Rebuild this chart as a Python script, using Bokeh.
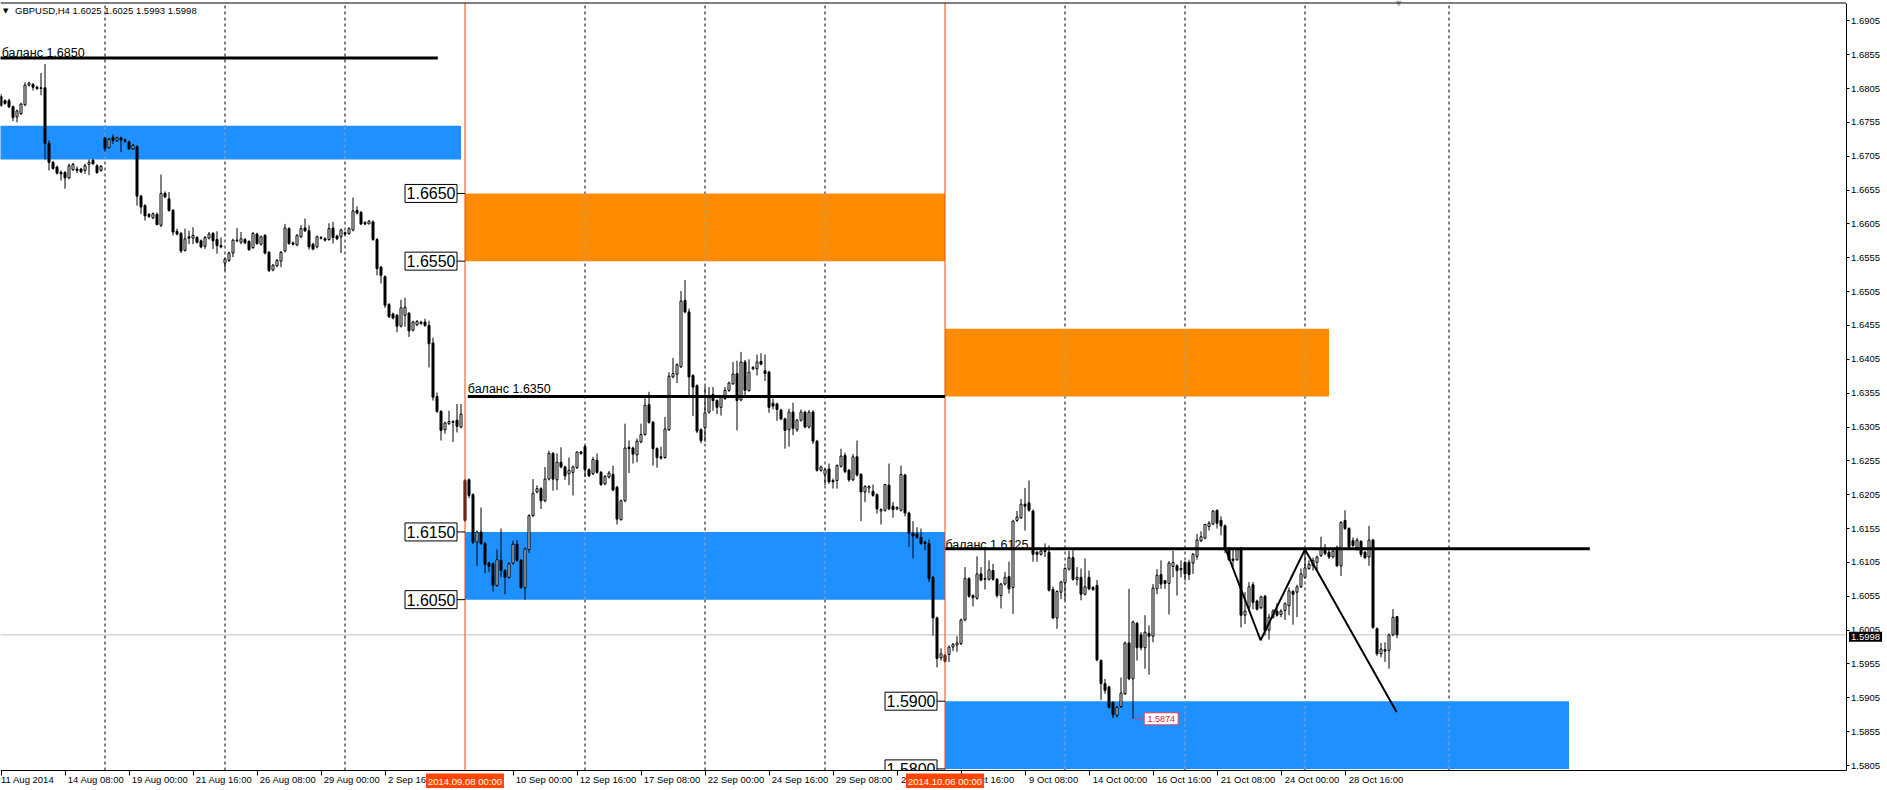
import numpy as np
from bokeh.plotting import figure
from bokeh.models import (Range1d, LinearAxis, FixedTicker, PrintfTickFormatter, Label)
from bokeh.embed import file_html
from bokeh.resources import INLINE
from bokeh.core.properties import value

# ---------------------------------------------------------------- data
symbol_header = "GBPUSD,H4  1.6025 1.6025 1.5993 1.5998"
first_bar = 4  # bar 0 = Mon 11 Aug 2014 00:00, H4 bars (6 per day, 5 days per week)

opens = [
    1.6793, 1.6787, 1.6787, 1.6778, 1.6763, 1.6768, 1.6781, 1.6810, 1.6811, 1.6807,
    1.6806, 1.6806, 1.6724, 1.6696, 1.6689, 1.6681, 1.6681, 1.6673, 1.6685, 1.6686,
    1.6686, 1.6684, 1.6693, 1.6699, 1.6691, 1.6684, 1.6732, 1.6718, 1.6733, 1.6728,
    1.6732, 1.6729, 1.6726, 1.6716, 1.6719, 1.6646, 1.6632, 1.6619, 1.6614, 1.6619,
    1.6603, 1.6650, 1.6642, 1.6625, 1.6594, 1.6591, 1.6566, 1.6586, 1.6584, 1.6585,
    1.6580, 1.6572, 1.6584, 1.6591, 1.6582, 1.6573, 1.6547, 1.6551, 1.6562, 1.6580,
    1.6578, 1.6582, 1.6579, 1.6570, 1.6590, 1.6575, 1.6588, 1.6563, 1.6537, 1.6543,
    1.6550, 1.6565, 1.6598, 1.6577, 1.6574, 1.6586, 1.6599, 1.6595, 1.6575, 1.6571,
    1.6585, 1.6583, 1.6582, 1.6599, 1.6587, 1.6586, 1.6592, 1.6591, 1.6596, 1.6625,
    1.6622, 1.6607, 1.6605, 1.6608, 1.6582, 1.6541, 1.6527, 1.6486, 1.6472, 1.6470,
    1.6454, 1.6470, 1.6473, 1.6448, 1.6456, 1.6460, 1.6460, 1.6455, 1.6429, 1.6350,
    1.6328, 1.6301, 1.6310, 1.6313, 1.6315, 1.6305, 1.6226, 1.6227, 1.6205, 1.6135,
    1.6150, 1.6133, 1.6104, 1.6103, 1.6071, 1.6108, 1.6093, 1.6083, 1.6104, 1.6132,
    1.6108, 1.6068, 1.6124, 1.6174, 1.6209, 1.6214, 1.6196, 1.6228, 1.6266, 1.6227,
    1.6253, 1.6246, 1.6236, 1.6238, 1.6245, 1.6268, 1.6276, 1.6242, 1.6236, 1.6256,
    1.6238, 1.6221, 1.6231, 1.6235, 1.6216, 1.6168, 1.6196, 1.6275, 1.6274, 1.6264,
    1.6283, 1.6294, 1.6338, 1.6312, 1.6273, 1.6261, 1.6260, 1.6301, 1.6379, 1.6383,
    1.6394, 1.6492, 1.6475, 1.6381, 1.6366, 1.6301, 1.6304, 1.6327, 1.6353, 1.6344,
    1.6334, 1.6347, 1.6359, 1.6369, 1.6384, 1.6345, 1.6401, 1.6359, 1.6391, 1.6391,
    1.6402, 1.6388, 1.6386, 1.6340, 1.6339, 1.6330, 1.6317, 1.6301, 1.6327, 1.6301,
    1.6315, 1.6327, 1.6305, 1.6327, 1.6284, 1.6241, 1.6235, 1.6243, 1.6226, 1.6226,
    1.6247, 1.6263, 1.6241, 1.6227, 1.6261, 1.6235, 1.6209, 1.6215, 1.6210, 1.6205,
    1.6181, 1.6182, 1.6219, 1.6188, 1.6184, 1.6182, 1.6234, 1.6178, 1.6148, 1.6147,
    1.6142, 1.6135, 1.6133, 1.6083, 1.6023, 1.5964, 1.5968, 1.5969, 1.5980, 1.5983,
    1.5985, 1.6020, 1.6081, 1.6056, 1.6052, 1.6088, 1.6081, 1.6080, 1.6093, 1.6080,
    1.6056, 1.6073, 1.6084, 1.6068, 1.6167, 1.6171, 1.6191, 1.6193, 1.6181, 1.6120,
    1.6117, 1.6121, 1.6120, 1.6065, 1.6023, 1.6061, 1.6075, 1.6095, 1.6112, 1.6080,
    1.6083, 1.6058, 1.6083, 1.6068, 1.6071, 1.5960, 1.5926, 1.5921, 1.5898, 1.5879,
    1.5892, 1.5911, 1.5986, 1.5933, 1.6015, 1.5998, 1.5979, 1.6000, 1.5996, 1.6066,
    1.6087, 1.6078, 1.6074, 1.6099, 1.6100, 1.6094, 1.6105, 1.6105, 1.6104, 1.6114,
    1.6137, 1.6141, 1.6158, 1.6162, 1.6182, 1.6167, 1.6159, 1.6126, 1.6110, 1.6109,
    1.6126, 1.6027, 1.6039, 1.6072, 1.6048, 1.6038, 1.6055, 1.6005, 1.6024, 1.6033,
    1.6028, 1.6034, 1.6041, 1.6062, 1.6061, 1.6069, 1.6083, 1.6096, 1.6100, 1.6105,
    1.6115, 1.6126, 1.6120, 1.6113, 1.6127, 1.6100, 1.6167, 1.6155, 1.6137, 1.6127,
    1.6136, 1.6120, 1.6113, 1.6138, 1.6007, 1.5970, 1.5976, 1.5975, 1.5998, 1.6025,
]
highs = [
    1.6797, 1.6789, 1.6790, 1.6780, 1.6774, 1.6784, 1.6814, 1.6815, 1.6813, 1.6809,
    1.6828, 1.6841, 1.6728, 1.6698, 1.6691, 1.6684, 1.6683, 1.6694, 1.6695, 1.6690,
    1.6688, 1.6694, 1.6700, 1.6701, 1.6693, 1.6692, 1.6733, 1.6732, 1.6737, 1.6734,
    1.6734, 1.6731, 1.6728, 1.6723, 1.6721, 1.6648, 1.6634, 1.6621, 1.6622, 1.6622,
    1.6678, 1.6653, 1.6652, 1.6627, 1.6598, 1.6593, 1.6598, 1.6595, 1.6600, 1.6587,
    1.6582, 1.6587, 1.6593, 1.6593, 1.6594, 1.6585, 1.6555, 1.6564, 1.6583, 1.6599,
    1.6593, 1.6584, 1.6581, 1.6593, 1.6592, 1.6588, 1.6590, 1.6565, 1.6546, 1.6553,
    1.6565, 1.6605, 1.6600, 1.6579, 1.6590, 1.6603, 1.6613, 1.6603, 1.6577, 1.6588,
    1.6587, 1.6585, 1.6606, 1.6608, 1.6589, 1.6598, 1.6594, 1.6600, 1.6644, 1.6631,
    1.6624, 1.6609, 1.6611, 1.6610, 1.6584, 1.6543, 1.6529, 1.6488, 1.6474, 1.6472,
    1.6493, 1.6496, 1.6475, 1.6462, 1.6463, 1.6462, 1.6465, 1.6462, 1.6437, 1.6356,
    1.6330, 1.6313, 1.6329, 1.6315, 1.6339, 1.6339, 1.6228, 1.6229, 1.6207, 1.6152,
    1.6186, 1.6135, 1.6106, 1.6105, 1.6124, 1.6155, 1.6095, 1.6105, 1.6137, 1.6138,
    1.6110, 1.6127, 1.6176, 1.6228, 1.6219, 1.6216, 1.6246, 1.6270, 1.6268, 1.6266,
    1.6275, 1.6248, 1.6260, 1.6248, 1.6269, 1.6270, 1.6278, 1.6244, 1.6261, 1.6266,
    1.6240, 1.6234, 1.6240, 1.6248, 1.6218, 1.6198, 1.6310, 1.6285, 1.6276, 1.6288,
    1.6310, 1.6350, 1.6357, 1.6314, 1.6275, 1.6276, 1.6320, 1.6386, 1.6407, 1.6399,
    1.6506, 1.6522, 1.6480, 1.6383, 1.6368, 1.6303, 1.6365, 1.6364, 1.6364, 1.6346,
    1.6351, 1.6364, 1.6372, 1.6401, 1.6403, 1.6416, 1.6404, 1.6405, 1.6395, 1.6412,
    1.6414, 1.6412, 1.6388, 1.6347, 1.6341, 1.6332, 1.6319, 1.6332, 1.6341, 1.6317,
    1.6331, 1.6329, 1.6330, 1.6330, 1.6286, 1.6248, 1.6244, 1.6251, 1.6229, 1.6250,
    1.6273, 1.6267, 1.6243, 1.6265, 1.6285, 1.6237, 1.6219, 1.6219, 1.6220, 1.6207,
    1.6185, 1.6221, 1.6251, 1.6194, 1.6188, 1.6248, 1.6236, 1.6180, 1.6166, 1.6157,
    1.6155, 1.6137, 1.6139, 1.6085, 1.6025, 1.5978, 1.5970, 1.5982, 1.5986, 1.5996,
    1.6022, 1.6098, 1.6083, 1.6058, 1.6114, 1.6098, 1.6127, 1.6108, 1.6103, 1.6082,
    1.6075, 1.6091, 1.6106, 1.6168, 1.6181, 1.6199, 1.6215, 1.6226, 1.6183, 1.6122,
    1.6124, 1.6133, 1.6130, 1.6069, 1.6064, 1.6078, 1.6098, 1.6122, 1.6123, 1.6098,
    1.6096, 1.6111, 1.6093, 1.6070, 1.6079, 1.5962, 1.5933, 1.5923, 1.5900, 1.5893,
    1.5935, 1.5988, 1.6066, 1.6019, 1.6017, 1.6002, 1.6027, 1.6012, 1.6073, 1.6095,
    1.6108, 1.6079, 1.6107, 1.6122, 1.6102, 1.6108, 1.6107, 1.6109, 1.6119, 1.6147,
    1.6151, 1.6162, 1.6166, 1.6182, 1.6183, 1.6173, 1.6161, 1.6128, 1.6126, 1.6126,
    1.6128, 1.6061, 1.6076, 1.6076, 1.6050, 1.6056, 1.6057, 1.6029, 1.6036, 1.6045,
    1.6036, 1.6046, 1.6068, 1.6064, 1.6072, 1.6096, 1.6123, 1.6108, 1.6112, 1.6115,
    1.6143, 1.6132, 1.6125, 1.6124, 1.6130, 1.6166, 1.6182, 1.6157, 1.6142, 1.6141,
    1.6138, 1.6122, 1.6159, 1.6140, 1.6009, 1.5986, 1.5987, 1.6000, 1.6036, 1.6025,
]
lows = [
    1.6778, 1.6781, 1.6776, 1.6757, 1.6755, 1.6766, 1.6779, 1.6808, 1.6802, 1.6803,
    1.6795, 1.6700, 1.6684, 1.6685, 1.6678, 1.6669, 1.6657, 1.6671, 1.6683, 1.6680,
    1.6680, 1.6679, 1.6677, 1.6692, 1.6679, 1.6682, 1.6711, 1.6716, 1.6723, 1.6726,
    1.6711, 1.6725, 1.6714, 1.6714, 1.6632, 1.6620, 1.6610, 1.6614, 1.6612, 1.6603,
    1.6600, 1.6643, 1.6623, 1.6588, 1.6588, 1.6562, 1.6564, 1.6575, 1.6575, 1.6576,
    1.6569, 1.6568, 1.6582, 1.6568, 1.6561, 1.6569, 1.6536, 1.6549, 1.6556, 1.6578,
    1.6575, 1.6575, 1.6565, 1.6568, 1.6574, 1.6573, 1.6560, 1.6534, 1.6535, 1.6541,
    1.6541, 1.6563, 1.6574, 1.6573, 1.6572, 1.6584, 1.6593, 1.6567, 1.6566, 1.6569,
    1.6582, 1.6579, 1.6580, 1.6576, 1.6581, 1.6562, 1.6588, 1.6589, 1.6594, 1.6619,
    1.6603, 1.6603, 1.6605, 1.6580, 1.6529, 1.6517, 1.6481, 1.6466, 1.6464, 1.6445,
    1.6452, 1.6453, 1.6438, 1.6446, 1.6454, 1.6456, 1.6453, 1.6393, 1.6344, 1.6326,
    1.6285, 1.6295, 1.6308, 1.6283, 1.6297, 1.6303, 1.6165, 1.6200, 1.6132, 1.6100,
    1.6131, 1.6089, 1.6091, 1.6062, 1.6069, 1.6083, 1.6058, 1.6081, 1.6102, 1.6106,
    1.6066, 1.6050, 1.6119, 1.6172, 1.6207, 1.6184, 1.6194, 1.6226, 1.6211, 1.6212,
    1.6244, 1.6227, 1.6219, 1.6204, 1.6243, 1.6264, 1.6231, 1.6231, 1.6234, 1.6236,
    1.6218, 1.6219, 1.6229, 1.6210, 1.6161, 1.6167, 1.6194, 1.6237, 1.6251, 1.6253,
    1.6281, 1.6292, 1.6310, 1.6248, 1.6245, 1.6257, 1.6258, 1.6299, 1.6377, 1.6370,
    1.6392, 1.6473, 1.6350, 1.6321, 1.6296, 1.6281, 1.6283, 1.6325, 1.6329, 1.6324,
    1.6322, 1.6345, 1.6357, 1.6367, 1.6300, 1.6343, 1.6349, 1.6357, 1.6389, 1.6381,
    1.6396, 1.6373, 1.6326, 1.6331, 1.6314, 1.6315, 1.6273, 1.6276, 1.6293, 1.6298,
    1.6313, 1.6303, 1.6303, 1.6280, 1.6239, 1.6239, 1.6219, 1.6221, 1.6214, 1.6214,
    1.6245, 1.6237, 1.6224, 1.6225, 1.6232, 1.6166, 1.6194, 1.6207, 1.6202, 1.6177,
    1.6161, 1.6180, 1.6182, 1.6171, 1.6182, 1.6180, 1.6173, 1.6128, 1.6111, 1.6140,
    1.6131, 1.6123, 1.6076, 1.5997, 1.5950, 1.5960, 1.5957, 1.5958, 1.5974, 1.5973,
    1.5983, 1.6018, 1.6053, 1.6040, 1.6050, 1.6077, 1.6065, 1.6078, 1.6078, 1.6053,
    1.6037, 1.6071, 1.6059, 1.6029, 1.6165, 1.6169, 1.6152, 1.6180, 1.6106, 1.6106,
    1.6115, 1.6113, 1.6062, 1.6021, 1.6007, 1.6051, 1.6049, 1.6093, 1.6078, 1.6071,
    1.6049, 1.6056, 1.6064, 1.6063, 1.5959, 1.5902, 1.5911, 1.5889, 1.5875, 1.5876,
    1.5890, 1.5909, 1.5931, 1.5874, 1.5960, 1.5975, 1.5948, 1.5939, 1.5987, 1.6058,
    1.6066, 1.6066, 1.6028, 1.6083, 1.6056, 1.6083, 1.6078, 1.6079, 1.6088, 1.6109,
    1.6135, 1.6139, 1.6152, 1.6160, 1.6155, 1.6145, 1.6119, 1.6107, 1.6099, 1.6107,
    1.6009, 1.6014, 1.6033, 1.6036, 1.6034, 1.6036, 1.5997, 1.5991, 1.6022, 1.6025,
    1.6024, 1.6020, 1.6027, 1.6013, 1.6024, 1.6067, 1.6081, 1.6094, 1.6093, 1.6093,
    1.6113, 1.6116, 1.6110, 1.6111, 1.6098, 1.6085, 1.6153, 1.6126, 1.6128, 1.6122,
    1.6113, 1.6110, 1.6100, 1.6007, 1.5967, 1.5965, 1.5958, 1.5948, 1.5996, 1.5993,
]
closes = [
    1.6780, 1.6783, 1.6778, 1.6762, 1.6772, 1.6782, 1.6810, 1.6813, 1.6807, 1.6805,
    1.6805, 1.6724, 1.6696, 1.6687, 1.6680, 1.6679, 1.6673, 1.6691, 1.6693, 1.6684,
    1.6682, 1.6691, 1.6696, 1.6694, 1.6681, 1.6690, 1.6716, 1.6730, 1.6728, 1.6732,
    1.6729, 1.6727, 1.6716, 1.6721, 1.6646, 1.6630, 1.6617, 1.6616, 1.6620, 1.6604,
    1.6650, 1.6645, 1.6625, 1.6593, 1.6590, 1.6565, 1.6583, 1.6584, 1.6588, 1.6578,
    1.6571, 1.6585, 1.6590, 1.6580, 1.6573, 1.6571, 1.6553, 1.6562, 1.6581, 1.6581,
    1.6583, 1.6577, 1.6567, 1.6591, 1.6576, 1.6586, 1.6562, 1.6536, 1.6544, 1.6551,
    1.6563, 1.6599, 1.6576, 1.6575, 1.6588, 1.6598, 1.6595, 1.6571, 1.6568, 1.6586,
    1.6584, 1.6581, 1.6598, 1.6585, 1.6583, 1.6596, 1.6590, 1.6598, 1.6624, 1.6621,
    1.6605, 1.6605, 1.6609, 1.6582, 1.6539, 1.6529, 1.6485, 1.6468, 1.6466, 1.6454,
    1.6481, 1.6482, 1.6447, 1.6460, 1.6461, 1.6458, 1.6455, 1.6428, 1.6349, 1.6328,
    1.6300, 1.6311, 1.6313, 1.6312, 1.6306, 1.6324, 1.6167, 1.6204, 1.6135, 1.6150,
    1.6133, 1.6102, 1.6099, 1.6071, 1.6109, 1.6093, 1.6083, 1.6103, 1.6132, 1.6108,
    1.6068, 1.6125, 1.6174, 1.6207, 1.6214, 1.6196, 1.6228, 1.6266, 1.6228, 1.6253,
    1.6246, 1.6233, 1.6241, 1.6246, 1.6268, 1.6266, 1.6242, 1.6233, 1.6257, 1.6238,
    1.6220, 1.6232, 1.6237, 1.6212, 1.6169, 1.6196, 1.6274, 1.6273, 1.6265, 1.6284,
    1.6294, 1.6337, 1.6312, 1.6273, 1.6260, 1.6259, 1.6302, 1.6380, 1.6384, 1.6397,
    1.6491, 1.6475, 1.6379, 1.6364, 1.6299, 1.6285, 1.6326, 1.6350, 1.6344, 1.6334,
    1.6349, 1.6359, 1.6370, 1.6383, 1.6344, 1.6401, 1.6359, 1.6386, 1.6393, 1.6401,
    1.6398, 1.6384, 1.6334, 1.6336, 1.6331, 1.6317, 1.6300, 1.6327, 1.6303, 1.6315,
    1.6327, 1.6305, 1.6327, 1.6284, 1.6241, 1.6246, 1.6242, 1.6224, 1.6224, 1.6248,
    1.6262, 1.6239, 1.6227, 1.6261, 1.6234, 1.6209, 1.6217, 1.6217, 1.6204, 1.6184,
    1.6183, 1.6220, 1.6184, 1.6183, 1.6186, 1.6235, 1.6178, 1.6148, 1.6144, 1.6142,
    1.6133, 1.6133, 1.6081, 1.6023, 1.5963, 1.5970, 1.5959, 1.5980, 1.5984, 1.5986,
    1.6020, 1.6081, 1.6055, 1.6053, 1.6088, 1.6079, 1.6080, 1.6094, 1.6080, 1.6056,
    1.6073, 1.6083, 1.6066, 1.6166, 1.6172, 1.6191, 1.6188, 1.6182, 1.6117, 1.6117,
    1.6122, 1.6123, 1.6064, 1.6023, 1.6062, 1.6076, 1.6096, 1.6112, 1.6080, 1.6083,
    1.6058, 1.6069, 1.6066, 1.6065, 1.5961, 1.5926, 1.5916, 1.5891, 1.5880, 1.5891,
    1.5912, 1.5986, 1.5933, 1.6017, 1.5979, 1.5979, 1.6002, 1.5996, 1.6067, 1.6086,
    1.6073, 1.6074, 1.6104, 1.6105, 1.6093, 1.6096, 1.6088, 1.6087, 1.6117, 1.6138,
    1.6143, 1.6161, 1.6163, 1.6181, 1.6163, 1.6159, 1.6126, 1.6109, 1.6108, 1.6125,
    1.6027, 1.6033, 1.6069, 1.6046, 1.6036, 1.6054, 1.6004, 1.6024, 1.6033, 1.6027,
    1.6033, 1.6044, 1.6063, 1.6058, 1.6069, 1.6088, 1.6097, 1.6102, 1.6108, 1.6113,
    1.6126, 1.6118, 1.6113, 1.6122, 1.6100, 1.6164, 1.6155, 1.6128, 1.6130, 1.6138,
    1.6117, 1.6112, 1.6138, 1.6009, 1.5970, 1.5977, 1.5974, 1.5998, 1.6024, 1.5998,
]

price_ticks = [1.5805, 1.5855, 1.5905, 1.5955, 1.6005, 1.6055, 1.6105, 1.6155,
               1.6205, 1.6255, 1.6305, 1.6355, 1.6405, 1.6455, 1.6505, 1.6555,
               1.6605, 1.6655, 1.6705, 1.6755, 1.6805, 1.6855, 1.6905]

time_tick_bars = [4, 20, 36, 52, 68, 84, 100, 132, 148, 164, 180, 196, 212,
                  228, 244, 260, 276, 292, 308, 324, 340]
time_tick_labels = ["11 Aug 2014", "14 Aug 08:00", "19 Aug 00:00", "21 Aug 16:00",
                    "26 Aug 08:00", "29 Aug 00:00", "2 Sep 16:00", "10 Sep 00:00",
                    "12 Sep 16:00", "17 Sep 08:00", "22 Sep 00:00", "24 Sep 16:00",
                    "29 Sep 08:00", "2 Oct 00:00", "7 Oct 16:00", "9 Oct 08:00",
                    "14 Oct 00:00", "16 Oct 16:00", "21 Oct 08:00", "24 Oct 00:00",
                    "28 Oct 16:00"]

week_grid_bars = [30, 60, 90, 150, 180, 210, 270, 300, 330, 366]
event_bars = [120, 240]
event_labels = ["2014.09.08 00:00", "2014.10.06 00:00"]

zone_left = [0, 120, 120, 240, 240]
zone_right = [119, 240, 240, 336, 396]
zone_bottom = [1.6700, 1.6550, 1.6050, 1.6350, 1.5800]
zone_top = [1.6750, 1.6650, 1.6150, 1.6450, 1.5900]
zone_kind = ["demand", "supply", "demand", "supply", "demand"]

balance_levels = [1.6850, 1.6350, 1.6125]
balance_start = [0, 120.7, 240.1]
balance_end = [113.2, 240, 401.2]
balance_texts = ["баланс 1.6850", "баланс 1.6350", "баланс 1.6125"]

level_values = [1.6650, 1.6550, 1.6150, 1.6050, 1.5900, 1.5800]
level_texts = ["1.6650", "1.6550", "1.6150", "1.6050", "1.5900", "1.5800"]
level_anchor_bars = [120, 120, 120, 120, 240, 240]

zigzag_bars = [310, 318.9, 330, 352.9]
zigzag_prices = [1.6127, 1.5990, 1.6124, 1.5884]

last_price = 1.5998
low_bar = 287
low_price = 1.5874

# ---------------------------------------------------------------- geometry / style
FONT = "Liberation Sans"
PX_BAR = 4.0          # pixels per H4 bar
PX_PRICE = 6770.0     # pixels per 1.0000 of price
FIG_W, FIG_H = 1885, 788
X0 = 3.875
X1 = X0 + FIG_W / PX_BAR
X_AX = X0 + 1845.5 / PX_BAR           # price-scale line
Y1 = 1.6935
Y0 = Y1 - FIG_H / PX_PRICE
Y_AX = Y1 - 770 / PX_PRICE            # time-scale line
Y_TOP = Y1 - 2.5 / PX_PRICE           # chart top border
BLUE = "#1E90FF"
ORANGE = "#FF8C00"
EVENT = "#FF4500"

p = figure(frame_width=FIG_W, frame_height=FIG_H,
           x_range=Range1d(X0, X1), y_range=Range1d(Y0, Y1),
           x_axis_location=None, y_axis_location=None,
           toolbar_location=None, output_backend="svg", min_border=0,
           background_fill_color="white", border_fill_color="white",
           outline_line_color=None)
p.xgrid.visible = False
p.ygrid.visible = False

# zones
zcolors = [BLUE if k == "demand" else ORANGE for k in zone_kind]
p.quad(left=zone_left, right=zone_right, top=zone_top, bottom=zone_bottom,
       fill_color=zcolors, line_color=None)

# weekly separators (dashed), lighter where they cross a zone
n = len(week_grid_bars)
p.segment(x0=week_grid_bars, y0=[Y_AX] * n, x1=week_grid_bars, y1=[Y_TOP] * n,
          line_color="black", line_width=1, line_dash="3 3", level="underlay")
gx, gb, gt = [], [], []
for zl, zr, zb, zt in zip(zone_left, zone_right, zone_bottom, zone_top):
    for g in week_grid_bars:
        if zl < g < zr:
            gx.append(g); gb.append(zb); gt.append(zt)
p.segment(x0=gx, y0=gb, x1=gx, y1=gt, line_color="#9AA6B2", line_width=1, line_dash="3 3")

# current price line
p.segment(x0=[X0], y0=[last_price], x1=[X_AX], y1=[last_price], line_color="#C0C0C0",
          line_width=1)

# candles
bars = np.arange(first_bar, first_bar + len(closes))
o = np.array(opens); h = np.array(highs); l = np.array(lows); c = np.array(closes)
up = c >= o
p.segment(x0=bars, y0=h, x1=bars, y1=l, line_color="black", line_width=1)
p.vbar(x=bars[up], width=0.5, top=c[up], bottom=o[up], fill_color="white",
       line_color="black", line_width=1)
p.vbar(x=bars[~up], width=0.5, top=o[~up], bottom=c[~up], fill_color="black",
       line_color="black", line_width=1)

# event vertical lines
p.segment(x0=event_bars, y0=[Y_AX] * 2, x1=event_bars, y1=[Y_TOP] * 2,
          line_color=EVENT, line_width=1)

# balance lines and texts
p.segment(x0=balance_start, y0=balance_levels, x1=balance_end, y1=balance_levels,
          line_color="black", line_width=3)
p.text(x=[max(s, X0 + 0.3) for s in balance_start], y=balance_levels, text=balance_texts,
       y_offset=[-5, -8, -4], text_baseline="alphabetic", text_align="left",
       text_font=value(FONT), text_font_size="12.5px", text_color="black")

# level boxes
GAP = 8
BOX_W, BOX_H = 52, 18
lx = [a - (GAP + BOX_W / 2) / PX_BAR for a in level_anchor_bars]
p.segment(x0=[a - GAP / PX_BAR for a in level_anchor_bars], y0=level_values,
          x1=level_anchor_bars, y1=level_values, line_color="black", line_width=1)
p.rect(x=lx, y=level_values, width=BOX_W, height=BOX_H, width_units="screen",
       height_units="screen", fill_color="white", line_color="black", line_width=1)
p.text(x=lx, y=level_values, text=level_texts, text_align="center", text_baseline="middle",
       text_font=value(FONT), text_font_size="16px", text_color="black")

# zigzag trend
p.line(zigzag_bars, zigzag_prices, line_color="black", line_width=2)

# low price label
lbx = low_bar + 2.8 + 17 / PX_BAR
p.segment(x0=[low_bar], y0=[low_price], x1=[low_bar + 2.8], y1=[low_price],
          line_color="#D9415E", line_width=1)
p.rect(x=[lbx], y=[low_price], width=34, height=12, width_units="screen",
       height_units="screen", fill_color="white", line_color="#D9415E", line_width=1)
p.text(x=[lbx], y=[low_price], text=["1.5874"], text_align="center",
       text_baseline="middle", text_font=value(FONT), text_font_size="9px",
       text_color="#D01F3C")

# header
p.text(x=[X0 + 5.3 / PX_BAR], y=[Y1 - 10 / PX_PRICE], text=["▼"], text_align="center",
       text_baseline="middle", text_font=value("DejaVu Sans"), text_font_size="7px",
       text_color="black")
p.text(x=[X0 + 14.5 / PX_BAR], y=[Y1 - 9.5 / PX_PRICE], text=[symbol_header],
       text_baseline="middle", text_font=value(FONT), text_font_size="9.5px",
       text_color="black")
# chart-shift marker
p.text(x=[X0 + 1398 / PX_BAR], y=[Y1 - 3 / PX_PRICE], text=["▼"], text_align="center",
       text_baseline="middle", text_font=value("DejaVu Sans"), text_font_size="8px",
       text_color="#B4B4B4")

# top border
p.segment(x0=[X0], y0=[Y_TOP], x1=[X_AX], y1=[Y_TOP], line_color="black", line_width=1)

# masks outside the chart area (the scales live there)
p.quad(left=[X_AX, X0], right=[X1, X1], bottom=[Y0, Y0], top=[Y1, Y_AX],
       fill_color="white", line_color=None)

# right price axis
yaxis = LinearAxis(ticker=FixedTicker(ticks=price_ticks),
                   formatter=PrintfTickFormatter(format="%.4f"),
                   fixed_location=X_AX, bounds=(Y_AX, Y_TOP),
                   major_tick_out=3, major_tick_in=0, minor_tick_out=0, minor_tick_in=0,
                   major_label_standoff=2, major_label_text_font=FONT,
                   major_label_text_font_size="9.5px", major_label_text_color="black",
                   axis_line_color="black", major_tick_line_color="black")
p.add_layout(yaxis, "right")

# bottom time axis (labels start just right of their tick, MT4 style)
centers, overrides = [], {}
for b, t in zip(time_tick_bars, time_tick_labels):
    w = 4.75 * len(t)
    if b <= X0 + 1:
        cc = X0 + (w / 2 + 1) / PX_BAR
    else:
        cc = b + (2.5 + w / 2) / PX_BAR
    cc = round(cc, 4)
    centers.append(cc)
    overrides[cc] = t
xaxis = LinearAxis(ticker=FixedTicker(ticks=centers, minor_ticks=time_tick_bars),
                   major_label_overrides=overrides,
                   fixed_location=Y_AX, bounds=(X0, X_AX),
                   major_tick_out=0, major_tick_in=0, minor_tick_out=5, minor_tick_in=0,
                   major_label_standoff=-2, major_label_text_font=FONT,
                   major_label_text_font_size="9.5px", major_label_text_color="black",
                   axis_line_color="black", minor_tick_line_color="black")
p.add_layout(xaxis, "below")

pad = {"padding": 2} if "padding" in Label.properties() else {}

# highlighted event dates on the time axis
for b, t in zip(event_bars, event_labels):
    p.add_layout(Label(x=b, y=Y_AX, y_offset=-3, text=t, text_align="center",
                       text_baseline="top", text_font=FONT, text_font_size="9.5px",
                       text_color="white", background_fill_color=EVENT, **pad))

# current price tag on the price axis
p.add_layout(Label(x=X_AX, y=last_price, x_offset=3, y_offset=-2,
                   text=f"{last_price:.4f}", text_align="left", text_baseline="middle",
                   text_font=FONT, text_font_size="9.5px", text_color="white",
                   background_fill_color="black", **pad))

open("out.html", "w").write(file_html(p, INLINE))
